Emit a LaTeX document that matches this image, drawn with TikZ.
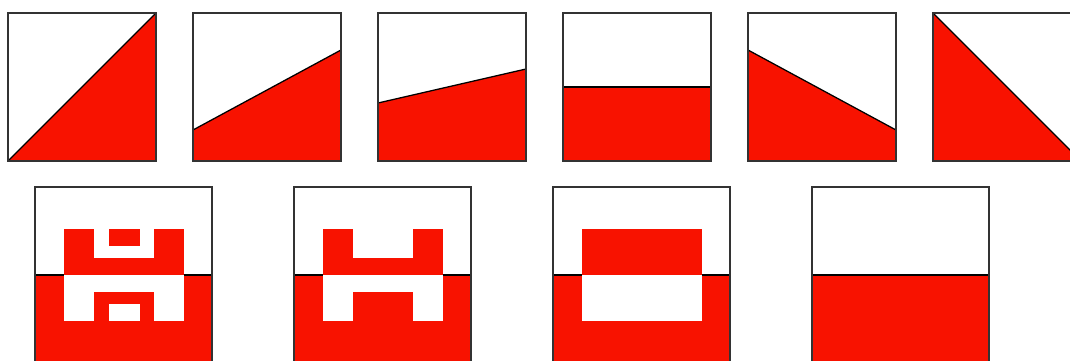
\documentclass[tikz,border=0pt]{standalone}
\usepackage{tikz}
\definecolor{flagred}{RGB}{248,18,0}
\tikzset{
  squareframe/.style={draw=black!80, line width=0.9pt},
  redpart/.style={fill=flagred},
  whitepart/.style={fill=white},
  divider/.style={draw=black, line width=0.9pt}
}

\begin{document}
\begin{tikzpicture}[x=0.25mm, y=-0.25mm]
  \useasboundingbox (0,0) rectangle (1070,361);
  \clip (0,0) rectangle (1070,361);

  % top row: the dividing line turns from one diagonal to the other
  \fill[redpart] (8,161) -- (156,13) -- (156,161) -- cycle;
  \draw[divider] (8,161) -- (156,13);
  \draw[squareframe] (8,13) rectangle (156,161);

  \fill[redpart] (193,161) -- (193,130) -- (341,50) -- (341,161) -- cycle;
  \draw[divider] (193,130) -- (341,50);
  \draw[squareframe] (193,13) rectangle (341,161);

  \fill[redpart] (378,161) -- (378,103) -- (526,69) -- (526,161) -- cycle;
  \draw[divider] (378,103) -- (526,69);
  \draw[squareframe] (378,13) rectangle (526,161);

  \fill[redpart] (563,87) rectangle (711,161);
  \draw[divider] (563,87) -- (711,87);
  \draw[squareframe] (563,13) rectangle (711,161);

  \fill[redpart] (748,161) -- (748,50) -- (896,130) -- (896,161) -- cycle;
  \draw[divider] (748,50) -- (896,130);
  \draw[squareframe] (748,13) rectangle (896,161);

  \fill[redpart] (933,161) -- (933,13) -- (1081,161) -- cycle;
  \draw[divider] (933,13) -- (1081,161);
  \draw[squareframe] (933,13) rectangle (1081,161);

  % bottom row: half and half, with mirrored patterns
  \fill[redpart] (35,275) rectangle (212,364);
  \fill[redpart] (63.5,229) rectangle (183.5,275);
  \fill[whitepart] (94,229) rectangle (154,258);
  \fill[redpart] (108.5,229) rectangle (139.5,246);
  \fill[whitepart] (63.5,275) rectangle (183.5,321);
  \fill[redpart] (94,292) rectangle (154,321);
  \fill[whitepart] (108.5,304) rectangle (139.5,321);
  \draw[divider] (35,275) -- (63.5,275);
  \draw[divider] (183.5,275) -- (212,275);
  \draw[squareframe] (35,187) rectangle (212,364);

  \fill[redpart] (294,275) rectangle (471,364);
  \fill[redpart] (322.5,229) rectangle (442.5,275);
  \fill[whitepart] (353,229) rectangle (413,258);
  \fill[whitepart] (322.5,275) rectangle (442.5,321);
  \fill[redpart] (353,292) rectangle (413,321);
  \draw[divider] (294,275) -- (322.5,275);
  \draw[divider] (442.5,275) -- (471,275);
  \draw[squareframe] (294,187) rectangle (471,364);

  \fill[redpart] (553,275) rectangle (730,364);
  \fill[redpart] (581.5,229) rectangle (701.5,275);
  \fill[whitepart] (581.5,275) rectangle (701.5,321);
  \draw[divider] (553,275) -- (581.5,275);
  \draw[divider] (701.5,275) -- (730,275);
  \draw[squareframe] (553,187) rectangle (730,364);

  \fill[redpart] (812,275) rectangle (989,364);
  \draw[divider] (812,275) -- (989,275);
  \draw[squareframe] (812,187) rectangle (989,364);
\end{tikzpicture}
\end{document}
